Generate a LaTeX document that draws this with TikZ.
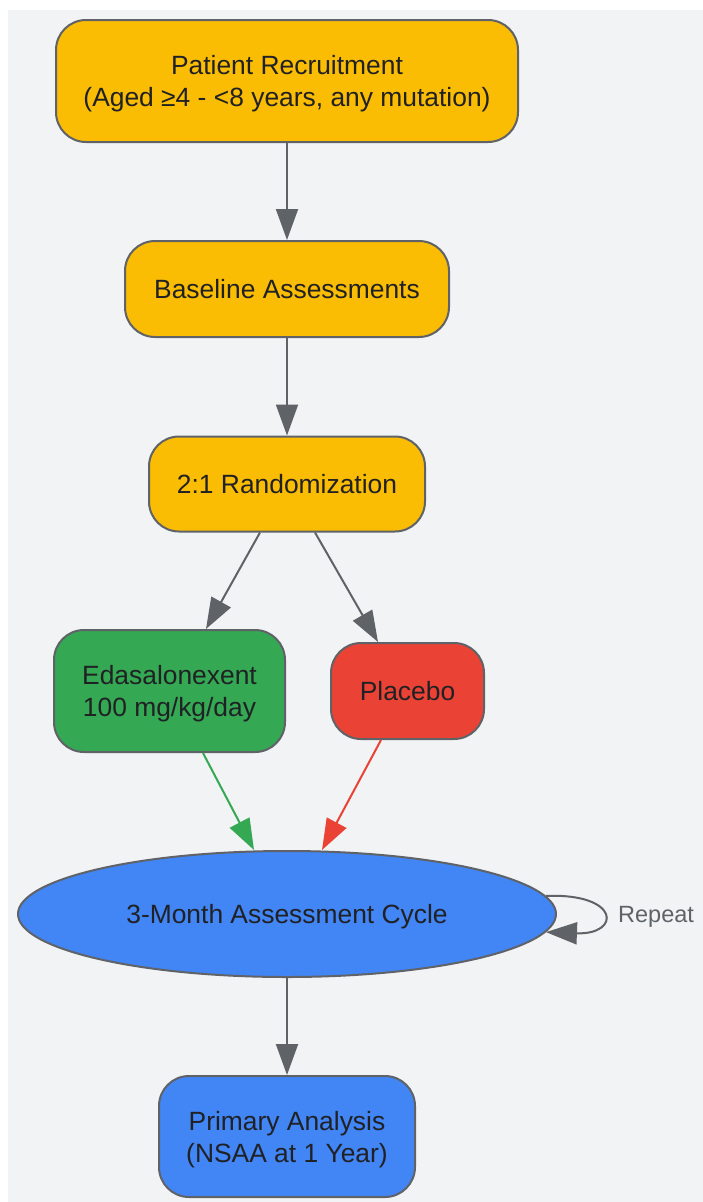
\documentclass[tikz,border=0pt]{standalone}
\usepackage{fontspec}
\setmainfont{Liberation Sans}
\usetikzlibrary{arrows.meta,shapes.geometric}
\definecolor{bgc}{HTML}{F1F3F4}
\definecolor{edgec}{HTML}{5F6368}
\definecolor{txtc}{HTML}{202124}
\definecolor{yel}{HTML}{FBBC04}
\definecolor{grn}{HTML}{34A853}
\definecolor{redc}{HTML}{EA4335}
\definecolor{blu}{HTML}{4285F4}
\newcommand{\lowtxt}[1]{\raisebox{-3.5pt}[\height][\depth]{\begin{tabular}{@{}c@{}}#1\end{tabular}}}
\tikzset{
  box/.style={draw=edgec, line width=2pt, rounded corners=30pt, inner sep=0pt,
    align=center, text=txtc, font=\fontsize{26.4}{32}\selectfont},
  arr/.style={draw=edgec, line width=2pt, -{Triangle[length=31pt,width=22pt]}},
}
\begin{document}
\begin{tikzpicture}[x=1pt,y=-1pt]
\useasboundingbox (0,0) rectangle (703,1202);
\fill[bgc] (8,10) rectangle (703,1202);
\node[box, fill=yel, minimum width=462pt, minimum height=122pt] (rec) at (287,81) {\lowtxt{Patient Recruitment\\(Aged ≥4 - <8 years, any mutation)}};
\node[box, fill=yel, minimum width=324pt, minimum height=96pt] (base) at (287,289) {\lowtxt{Baseline Assessments}};
\node[box, fill=yel, minimum width=276pt, minimum height=95pt] (rand) at (287,484) {\lowtxt{2:1 Randomization}};
\node[box, fill=grn, minimum width=231pt, minimum height=122pt] (eda) at (169.5,691) {\lowtxt{Edasalonexent\\100 mg/kg/day}};
\node[box, fill=redc, minimum width=153pt, minimum height=96pt] (plac) at (407.5,691) {\lowtxt{Placebo}};
\node[ellipse, draw=edgec, line width=2pt, fill=blu, inner sep=0pt, minimum width=538pt, minimum height=126pt, text=txtc, font=\fontsize{26.4}{32}\selectfont] (cyc) at (287,914) {\lowtxt{3-Month Assessment Cycle}};
\node[box, fill=blu, minimum width=256pt, minimum height=121pt] (prim) at (287,1136.5) {\lowtxt{Primary Analysis\\(NSAA at 1 Year)}};
\draw[arr] (rec.south) -- (base.north);
\draw[arr] (base.south) -- (rand.north);
\draw[arr] ([xshift=-27pt]rand.south) -- ([xshift=36.5pt]eda.north);
\draw[arr] ([xshift=28pt]rand.south) -- ([xshift=-29.5pt]plac.north);
\draw[arr, draw=grn] ([xshift=33.5pt]eda.south) -- (254,850);
\draw[arr, draw=redc] ([xshift=-26.5pt]plac.south) -- (322,850);
\draw[arr] (cyc.south) -- (prim.north);
\draw[arr] (cyc.4) .. controls (621,893) and (621,935) .. (cyc.-4);
\node[text=edgec, font=\fontsize{23.5}{28}\selectfont, anchor=west, inner sep=0pt] (rep) at (618,917) {Repeat};
\end{tikzpicture}
\end{document}
